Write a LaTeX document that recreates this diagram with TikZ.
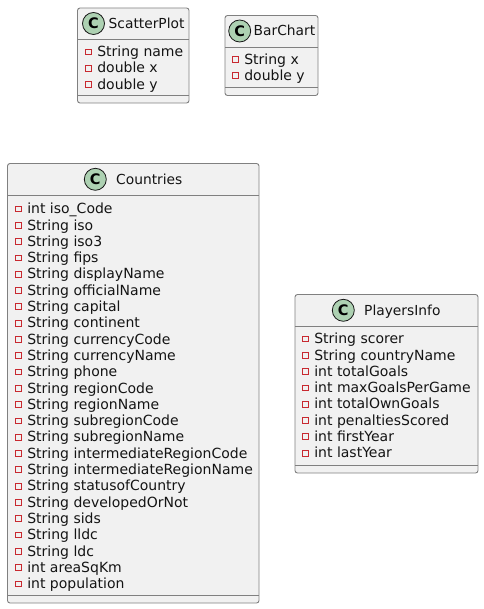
\documentclass[tikz,border=0pt]{standalone}
\usepackage{fontspec}
\setmainfont{DejaVu Sans}
\definecolor{boxfill}{HTML}{F1F1F1}
\definecolor{boxline}{HTML}{808080}
\definecolor{spotfill}{HTML}{ADD1B2}
\definecolor{spotline}{HTML}{181818}
\definecolor{privred}{HTML}{C82930}
\definecolor{ink}{HTML}{141414}
\tikzset{
  classbox/.style={draw=boxline,fill=boxfill,line width=0.9pt,rounded corners=2.5pt},
  divider/.style={draw=boxline,line width=0.9pt},
  spot/.style={circle,draw=spotline,fill=spotfill,line width=0.8pt,minimum size=22pt,inner sep=0pt,font=\fontsize{14.5}{14.5}\selectfont\bfseries},
  title/.style={anchor=base west,inner sep=0pt,font=\fontsize{13.8}{14}\selectfont,text=ink},
  member/.style={anchor=base west,inner sep=0pt,font=\fontsize{14}{14}\selectfont,text=ink},
  priv/.style={draw=privred,fill=none,line width=1pt}
}
% #1 left, #2 first baseline, #3 list of member texts
\newcommand{\memberlist}[3]{%
  \foreach \txt [count=\i from 0] in {#3} {
    \pgfmathsetmacro{\yy}{#2+16.3*\i}
    \draw[priv] (#1,\yy-7.6) rectangle ++(5.8,5.8);
    \node[member] at (#1+11.6,\yy) {\txt};
  }%
}
\begin{document}
\begin{tikzpicture}[x=1pt,y=-1pt]
\useasboundingbox (0,0) rectangle (483,609);

% ScatterPlot
\draw[classbox] (77.5,8) rectangle (189,103);
\draw[divider] (77.5,39.5) -- (189,39.5) (77.5,95.5) -- (189,95.5);
\node[spot] (sc) at (93.5,23.5) {C};
\node[title] (sct) at (108.5,28.5) {ScatterPlot};
\memberlist{85.5}{56.7}{String name,double x,double y}

% BarChart
\draw[classbox] (225,15.5) rectangle (318,95.5);
\draw[divider] (225,47) -- (318,47) (225,87.5) -- (318,87.5);
\node[spot] (bc) at (239.7,31) {C};
\node[title] (bct) at (253.5,36) {BarChart};
\memberlist{232.5}{64.2}{String x,double y}

% Countries
\draw[classbox] (7.5,163.5) rectangle (259,603);
\draw[divider] (7.5,195.5) -- (259,195.5) (7.5,595) -- (259,595);
\node[spot] (co) at (95.3,179.3) {C};
\node[title] (cot) at (116,184.8) {Countries};
\memberlist{15.5}{213.7}{int iso\_Code,String iso,String iso3,String fips,String displayName,String officialName,String capital,String continent,String currencyCode,String currencyName,String phone,String regionCode,String regionName,String subregionCode,String subregionName,String intermediateRegionCode,String intermediateRegionName,String statusofCountry,String developedOrNot,String sids,String lldc,String ldc,int areaSqKm,int population}

% PlayersInfo
\draw[classbox] (295,294.5) rectangle (478,473);
\draw[divider] (295,326) -- (478,326) (295,465) -- (478,465);
\node[spot] (pl) at (343.3,310.3) {C};
\node[title] (plt) at (364,315.3) {PlayersInfo};
\memberlist{302.5}{343.7}{String scorer,String countryName,int totalGoals,int maxGoalsPerGame,int totalOwnGoals,int penaltiesScored,int firstYear,int lastYear}
\end{tikzpicture}
\end{document}
